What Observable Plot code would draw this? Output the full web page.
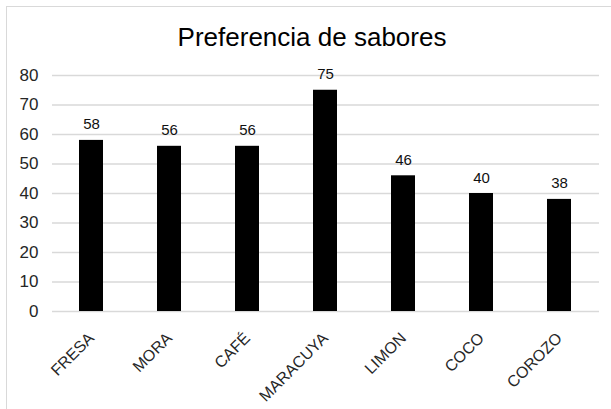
<!DOCTYPE html>
<html>
<head>
<meta charset="utf-8">
<script src="https://cdn.jsdelivr.net/npm/d3@7"></script>
<script src="https://cdn.jsdelivr.net/npm/@observablehq/plot@0.6"></script>
<style>
  html, body { margin: 0; padding: 0; background: #fff; }
  #wrap { position: relative; width: 611px; height: 409px; overflow: hidden; }
  #frame { position: absolute; left: 6px; top: 6px; width: 640px; height: 440px; border: 1px solid #d9d9d9; box-sizing: border-box; }
  #chart { position: absolute; left: 0; top: 0; }
  svg { font-family: "Liberation Sans", Arial, sans-serif; }
</style>
</head>
<body>
<div id="wrap"><div id="frame"></div><div id="chart"></div></div>
<script>
const title = "Preferencia de sabores";
const sabores = ["FRESA", "MORA", "CAFÉ", "MARACUYA", "LIMON", "COCO", "COROZO"];
const votos = [58, 56, 56, 75, 46, 40, 38];
const yTicks = [0, 10, 20, 30, 40, 50, 60, 70, 80];

const data = sabores.map((s, i) => ({sabor: s, votos: votos[i]}));

const chart = Plot.plot({
  width: 611,
  height: 409,
  marginLeft: 52,
  marginRight: 12,
  marginTop: 75,
  marginBottom: 98,
  style: {fontFamily: "'Liberation Sans', Arial, sans-serif", background: "transparent", overflow: "visible"},
  x: {domain: sabores, paddingInner: 0.69, paddingOuter: 0.345, label: null},
  y: {domain: [0, 80], label: null},
  marks: [
    Plot.gridY(yTicks, {stroke: "#d9d9d9", strokeOpacity: 1, strokeWidth: 1.5}),
    Plot.barY(data, {x: "sabor", y: "votos", fill: "#000"}),
    Plot.text(data, {x: "sabor", y: "votos", text: d => String(d.votos), lineAnchor: "bottom", dy: -11, fontSize: 15, fill: "#111"}),
    Plot.axisY(yTicks, {tickSize: 0, tickPadding: 14, fontSize: 17, fill: "#262626", label: null}),
    Plot.axisX({tickSize: 0, tickRotate: -45, tickPadding: 24, fontSize: 16, fill: "#262626", label: null}),
    Plot.text([title], {frameAnchor: "top", lineAnchor: "bottom", dx: -14, dy: -30, fontSize: 26, fill: "#000"})
  ]
});
document.getElementById("chart").appendChild(chart);
</script>
</body>
</html>
